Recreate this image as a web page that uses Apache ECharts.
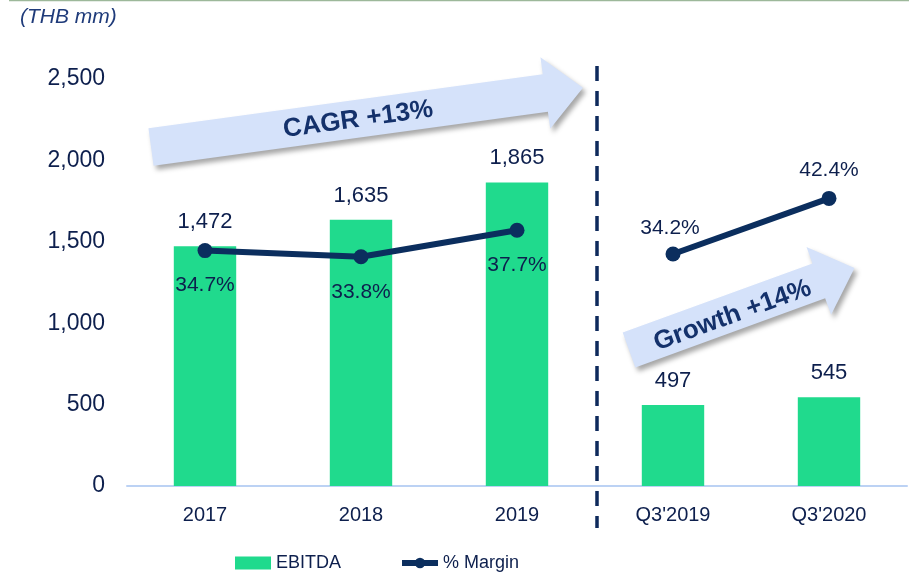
<!DOCTYPE html>
<html>
<head>
<meta charset="utf-8">
<script src="https://cdn.jsdelivr.net/npm/echarts@6/dist/echarts.min.js"></script>
<style>
  html, body { margin: 0; padding: 0; background: #fff; }
  #chart { width: 909px; height: 573px; }
</style>
</head>
<body>
<div id="chart"></div>
<script>
const categories = ['2017', '2018', '2019', "Q3'2019", "Q3'2020"];
const ebitda = [1472, 1635, 1865, 497, 545];
// margin split in two pieces: full years and the quarters
const marginYears = [34.7, 33.8, 37.7, null, null];
const marginQuarters = [null, null, null, 34.2, 42.4];
const yTicks = [0, 500, 1000, 1500, 2000, 2500];

const navy = '#0B2E5E';
const textColor = '#0D1F4D';
const green = '#20DA8D';
const font = 'Liberation Sans, Arial, sans-serif';

function fmt(v) {
  return String(v).replace(/\B(?=(\d{3})+(?!\d))/g, ',');
}

const chart = echarts.init(document.getElementById('chart'));

function lineData(arr, labels) {
  return arr.map(function (v, i) {
    if (v === null) return null;
    return { value: v, label: labels[i] };
  });
}

const yearLabels = [
  { position: 'bottom', distance: 17 },
  { position: 'bottom', distance: 17 },
  { position: 'bottom', distance: 17 }
];
const quarterLabels = [null, null, null,
  { position: 'top', distance: 8, offset: [-3, 0] },
  { position: 'top', distance: 10 }
];

function arrow(x, y, deg, L, h, H, K, text, tx, ty) {
  return {
    type: 'group',
    x: x, y: y,
    rotation: deg * Math.PI / 180,
    children: [
      {
        type: 'polygon',
        shape: { points: [[0, -h], [K, -h], [K, -H], [L, 0], [K, H], [K, h], [0, h]] },
        style: {
          fill: '#D5E2FA',
          shadowBlur: 5,
          shadowOffsetX: 3,
          shadowOffsetY: 4,
          shadowColor: 'rgba(0,0,0,0.35)'
        }
      },
      {
        type: 'text',
        x: tx, y: ty,
        style: {
          text: text,
          fill: '#14316B',
          font: 'bold 26px ' + font,
          align: 'center',
          verticalAlign: 'middle'
        }
      }
    ]
  };
}

const pctLabel = {
  show: true,
  color: textColor,
  fontSize: 21,
  fontFamily: font,
  formatter: function (p) { return p.value.toFixed(1) + '%'; }
};

const option = {
  animation: false,
  textStyle: { fontFamily: font },
  grid: { left: 127, right: 2, top: 79, bottom: 87 },
  legend: {
    left: 230,
    top: 549,
    itemWidth: 36,
    itemHeight: 13,
    itemGap: 58,
    textStyle: { color: textColor, fontSize: 18, fontFamily: font },
    data: [
      { name: 'EBITDA', icon: 'rect', itemStyle: { color: green } },
      { name: '% Margin', lineStyle: { width: 6, color: navy }, itemStyle: { color: navy } }
    ]
  },
  xAxis: {
    type: 'category',
    data: categories,
    axisLine: { lineStyle: { color: '#BCD2F4', width: 2 } },
    axisTick: { show: false },
    axisLabel: { color: textColor, fontSize: 20, margin: 19, fontFamily: font }
  },
  yAxis: [
    {
      type: 'value',
      min: yTicks[0],
      max: yTicks[yTicks.length - 1],
      interval: 500,
      splitLine: { show: false },
      axisLine: { show: false },
      axisTick: { show: false },
      axisLabel: { color: textColor, fontSize: 23, margin: 22, fontFamily: font, formatter: fmt }
    },
    { type: 'value', min: 0, max: 60, show: false }
  ],
  series: [
    {
      name: 'EBITDA',
      type: 'bar',
      data: ebitda,
      barWidth: '40%',
      itemStyle: { color: green },
      label: {
        show: true,
        position: 'top',
        distance: 13,
        color: textColor,
        fontSize: 22,
        fontFamily: font,
        formatter: function (p) { return fmt(p.value); }
      }
    },
    {
      name: '% Margin',
      type: 'line',
      yAxisIndex: 1,
      data: lineData(marginYears, yearLabels),
      symbol: 'circle',
      symbolSize: 15,
      lineStyle: { color: navy, width: 6 },
      itemStyle: { color: navy },
      label: pctLabel
    },
    {
      name: '% Margin',
      type: 'line',
      yAxisIndex: 1,
      data: lineData(marginQuarters, quarterLabels),
      symbol: 'circle',
      symbolSize: 15,
      lineStyle: { color: navy, width: 6 },
      itemStyle: { color: navy },
      label: pctLabel
    }
  ],
  graphic: [
    {
      type: 'line',
      shape: { x1: 9, y1: 0.5, x2: 909, y2: 0.5 },
      style: { stroke: '#9DB89A', lineWidth: 1.5 }
    },
    {
      type: 'text',
      left: 20, top: 7,
      style: { text: '(THB mm)', fill: '#1F3B7A', font: 'italic 21px ' + font }
    },
    {
      type: 'line',
      shape: { x1: 597, y1: 66, x2: 597, y2: 528 },
      style: { stroke: '#0E2A5C', lineWidth: 3.5, lineDash: [15, 10] }
    },
    arrow(151, 147, 7.8, 436, 19, 36, 398, 'CAGR +13%', 209, 1),
    arrow(629, 350, 20, 240, 18.5, 36, 202, 'Growth +14%', 109, 3)
  ]
};

chart.setOption(option);
</script>
</body>
</html>
